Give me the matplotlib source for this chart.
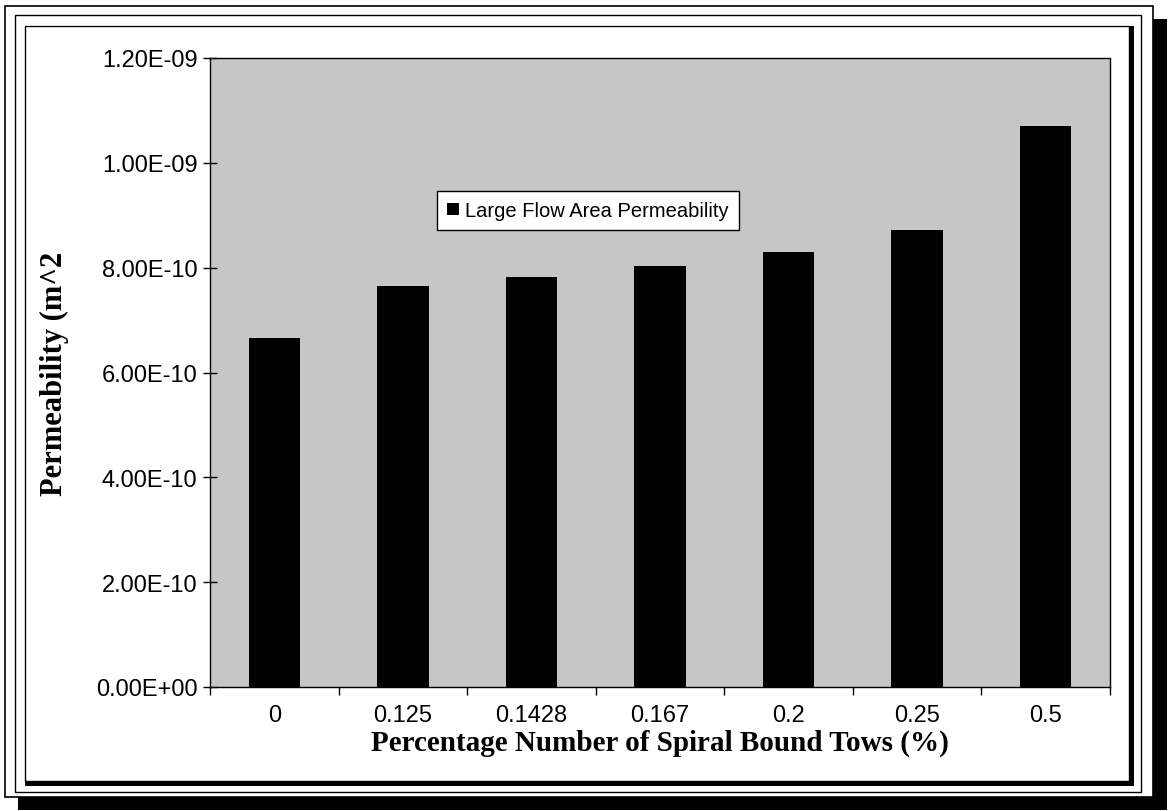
import matplotlib
matplotlib.use("Agg")
import matplotlib.pyplot as plt
from matplotlib.patches import Rectangle
import numpy as np

categories = ["0", "0.125", "0.1428", "0.167", "0.2", "0.25", "0.5"]
permeability = [6.65e-10, 7.65e-10, 7.82e-10, 8.03e-10, 8.30e-10, 8.72e-10, 1.07e-09]
series_name = "Large Flow Area Permeability"
y_ticks = [0, 2e-10, 4e-10, 6e-10, 8e-10, 1e-9, 1.2e-9]
y_tick_labels = ["0.00E+00", "2.00E-10", "4.00E-10", "6.00E-10", "8.00E-10", "1.00E-09", "1.20E-09"]

W, H = 1169, 812
fig = plt.figure(figsize=(W / 100, H / 100), dpi=100)
fig.patch.set_facecolor("white")


def prect(x0, y0, x1, y1, **kw):
    r = Rectangle((x0 / W, 1 - y1 / H), (x1 - x0) / W, (y1 - y0) / H,
                  transform=fig.transFigure, **kw)
    fig.add_artist(r)
    return r

# frame with drop shadow
prect(18, 20, 1167, 811, facecolor="black", edgecolor="none", zorder=0)
prect(5, 7, 1153, 798, facecolor="white", edgecolor="black", lw=1.2, zorder=0.1)
prect(15, 16, 1141, 793, facecolor="none", edgecolor="black", lw=1.0, zorder=0.2)
prect(25, 27, 1134, 787, facecolor="black", edgecolor="none", zorder=0.3)
prect(25, 27, 1129, 782, facecolor="white", edgecolor="black", lw=1.0, zorder=0.4)

ax = fig.add_axes([210 / W, 1 - 688 / H, 900 / W, 629 / H])
ax.set_zorder(1)
ax.set_facecolor("#c6c6c6")

x = np.arange(len(categories))
ax.bar(x, permeability, width=0.4, color="black", label=series_name, zorder=2)

ax.set_xlim(-0.5, len(categories) - 0.5)
ax.set_ylim(0, 1.2e-9)
ax.set_yticks(y_ticks)
ax.set_yticklabels(y_tick_labels, fontsize=17, family="Liberation Sans")
ax.set_xticks(x)
ax.set_xticklabels(categories, fontsize=17, family="Liberation Sans")
ax.set_xticks(np.arange(-0.5, len(categories)), minor=True)
ax.tick_params(axis="x", which="major", length=0, pad=12)
ax.tick_params(axis="x", which="minor", length=6, direction="out", width=1)
ax.tick_params(axis="y", which="major", length=10, direction="inout", width=1, pad=4)

for s in ax.spines.values():
    s.set_color("black")
    s.set_linewidth(1.0)
ax.spines["top"].set_linestyle((0, (1, 1)))
ax.spines["right"].set_linestyle((0, (1, 1)))

ax.set_xlabel("Percentage Number of Spiral Bound Tows (%)", fontsize=21,
              fontweight="bold", family="Liberation Serif", labelpad=2)
ax.set_ylabel("Permeability (m^2", fontsize=22, fontweight="bold",
              family="Liberation Serif", labelpad=19)

leg = ax.legend(loc="upper left", bbox_to_anchor=((437 - 210) / 900, (688 - 192) / 629),
                frameon=True, fancybox=False, shadow=False,
                prop={"family": "Liberation Sans", "size": 14.5},
                handlelength=0.6, handleheight=0.6, handletextpad=0.3,
                borderpad=0.5, borderaxespad=0)
leg.get_frame().set_edgecolor("black")
leg.get_frame().set_linewidth(1.0)
leg.get_frame().set_facecolor("white")
leg.get_frame().set_alpha(1)

fig.savefig("out.png", dpi=100)
